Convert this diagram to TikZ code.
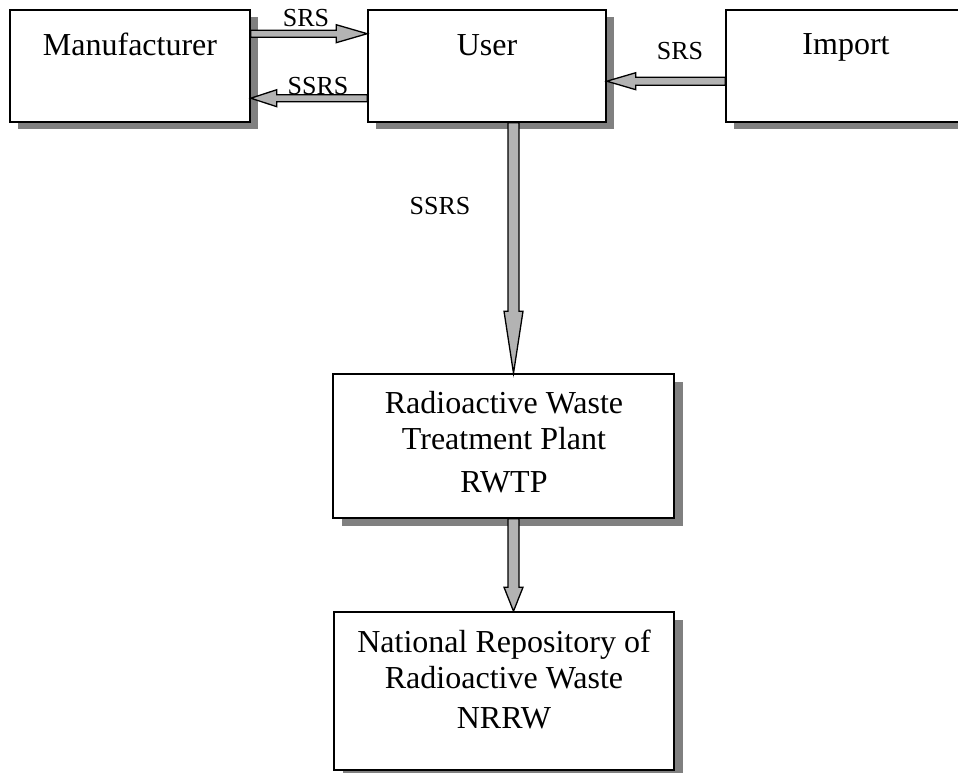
\documentclass[tikz,border=0pt]{standalone}
\usepackage{fontspec}
\setmainfont{Liberation Serif}
\usetikzlibrary{calc}
\definecolor{shadowgray}{HTML}{808080}
\definecolor{arrowgray}{HTML}{B3B3B3}
\tikzset{
  box/.style={draw=black, line width=1.6pt, fill=white, inner sep=0pt},
  boxshadow/.style={fill=shadowgray, draw=none},
  boxtext/.style={anchor=base, inner sep=0pt, font=\fontsize{32}{36}\selectfont},
  lbl/.style={anchor=base, inner sep=0pt, font=\fontsize{26}{30}\selectfont},
  arr/.style={fill=arrowgray, draw=black, line width=1.3pt, line join=miter},
}
% horizontal block arrow: #1 tail, #2 tip, #3 signed head length, #4 half shaft, #5 half head
\newcommand\hblock[5]{%
  \filldraw[arr] ($(#1)+(0,-#4)$) -- ($(#2)+(#3,-#4)$) -- ($(#2)+(#3,-#5)$) -- (#2)
    -- ($(#2)+(#3,#5)$) -- ($(#2)+(#3,#4)$) -- ($(#1)+(0,#4)$) -- cycle;}
% vertical block arrow: #1 tail, #2 tip, #3 signed head length, #4 half shaft, #5 half head
\newcommand\vblock[5]{%
  \filldraw[arr] ($(#1)+(-#4,0)$) -- ($(#2)+(-#4,#3)$) -- ($(#2)+(-#5,#3)$) -- (#2)
    -- ($(#2)+(#5,#3)$) -- ($(#2)+(#4,#3)$) -- ($(#1)+(#4,0)$) -- cycle;}
\begin{document}
\begin{tikzpicture}[x=1pt, y=-1pt]
\clip (0,0) rectangle (958,772);
\fill[white] (0,0) rectangle (958,772);

% shadows
\fill[boxshadow] (18,17) rectangle (258,129);
\fill[boxshadow] (376,17) rectangle (614,129);
\fill[boxshadow] (734,17) rectangle (974,129);
\fill[boxshadow] (342,382) rectangle (683,526);
\fill[boxshadow] (343,620) rectangle (683,778);

% boxes
\node[box, minimum width=240pt, minimum height=112pt] (man) at (130,66) {};
\node[box, minimum width=238pt, minimum height=112pt] (user) at (487,66) {};
\node[box, minimum width=240pt, minimum height=112pt] (imp) at (846,66) {};
\node[box, minimum width=341pt, minimum height=144pt] (rwtp) at (503.5,446) {};
\node[box, minimum width=340pt, minimum height=158pt] (nrrw) at (504,691) {};

% box texts
\node[boxtext] (tman) at (130,55) {Manufacturer};
\node[boxtext] (tuser) at (487,55) {User};
\node[boxtext] (timp) at (846,54) {Import};
\node[boxtext] (tr1) at (504,413) {Radioactive Waste};
\node[boxtext] (tr2) at (504,449) {Treatment Plant};
\node[boxtext] (tr3) at (504,492) {RWTP};
\node[boxtext] (tn1) at (504,652) {National Repository of};
\node[boxtext] (tn2) at (504,688) {Radioactive Waste};
\node[boxtext] (tn3) at (504,728) {NRRW};

% connector end points on the boxes
\coordinate (a1s) at ($(man.north east)+(0,24.5)$);
\coordinate (a1e) at (user.west |- a1s);
\coordinate (a2s) at ($(user.north west)+(0,89)$);
\coordinate (a2e) at (man.east |- a2s);
\coordinate (a3s) at ($(imp.north west)+(0,72)$);
\coordinate (a3e) at (user.east |- a3s);
\coordinate (a4s) at ($(user.south)+(26.5,0)$);
\coordinate (a4e) at (rwtp.north -| a4s);
\coordinate (a5s) at (rwtp.south -| a4s);
\coordinate (a5e) at (nrrw.north -| a4s);

% connectors
\hblock{a1s}{a1e}{-31}{3.5}{9}
\hblock{a2s}{a2e}{26}{3.5}{8.5}
\hblock{a3s}{a3e}{29}{4}{8.5}
\vblock{a4s}{a4e}{-62}{5.5}{9.5}
\vblock{a5s}{a5e}{-24}{5.5}{9.5}

% labels
\node[lbl] (l1) at (306,26) {SRS};
\node[lbl] (l2) at (318,94) {SSRS};
\node[lbl] (l3) at (680,59) {SRS};
\node[lbl] (l4) at (440,214) {SSRS};
\end{tikzpicture}
\end{document}
